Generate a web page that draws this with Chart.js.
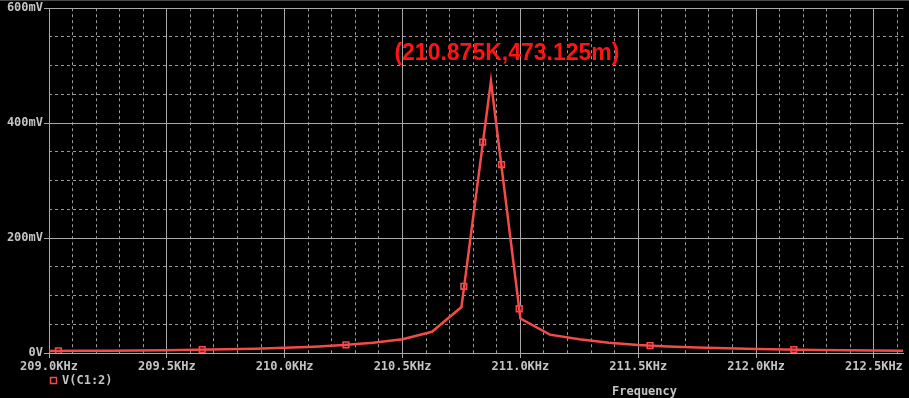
<!DOCTYPE html>
<html>
<head>
<meta charset="utf-8">
<title>V(C1:2)</title>
<script src="https://cdn.jsdelivr.net/npm/chart.js@4.4.1/dist/chart.umd.min.js"></script>
<style>
  html, body { margin: 0; padding: 0; background: #000; }
  #wrap { position: relative; width: 909px; height: 398px; }
  #wrap .edge { position: absolute; left: 0; top: 0; width: 909px; height: 1px; background: #4a4a4a; }
</style>
</head>
<body>
<div id="wrap"><canvas id="acChart"></canvas><div class="edge"></div></div>
<script>
// AC sweep of V(C1:2), frequency in KHz, voltage in mV
const freqKHz = [209.0, 209.125, 209.25, 209.375, 209.5, 209.625, 209.75, 209.875,
                 210.0, 210.125, 210.25, 210.375, 210.5, 210.625, 210.75, 210.875,
                 211.0, 211.125, 211.25, 211.375, 211.5, 211.625, 211.75, 211.875,
                 212.0, 212.125, 212.25, 212.375, 212.5, 212.625];
const vC1mV = [3.5, 3.8, 4.1, 4.5, 5.0, 5.8, 6.6, 7.6,
               9.0, 11, 14, 18, 24, 37, 80, 473.125,
               60, 32, 24, 18, 14, 11.5, 9.6, 8.3,
               7.0, 6.0, 5.3, 4.8, 4.4, 4.0];

// trace symbols along the curve
const markFreqKHz = [209.04, 209.65, 210.26, 210.76, 210.84, 210.92, 210.995, 211.55, 212.16];
const markMV = [3.8, 6, 14.3, 116, 367, 328, 77, 13, 6];

const xTicksMajor = 0.5, xTicksMinor = 0.1;
const yTicksMajor = 200, yTicksMinor = 50;
const traceName = 'V(C1:2)';
const xTitle = 'Frequency';

const traceColor = '#f54a4a';
const labelColor = '#c4c4c4';
const monoFont = { family: 'DejaVu Sans Mono', size: 12, weight: 'bold' };

const isMajor = (v, step) => Math.abs(v / step - Math.round(v / step)) < 1e-6;

// peak readout, legend entry and axis title
const notes = {
  id: 'notes',
  afterDraw(chart) {
    const ctx = chart.ctx;
    const xs = chart.scales.x, ys = chart.scales.y;
    let k = 0;
    vC1mV.forEach((v, i) => { if (v > vC1mV[k]) k = i; });
    const px = xs.getPixelForValue(freqKHz[k]);
    const py = ys.getPixelForValue(vC1mV[k]);
    ctx.save();
    ctx.fillStyle = '#ff1414';
    ctx.font = 'bold 23px "Liberation Sans", Arial, sans-serif';
    ctx.textAlign = 'center';
    ctx.textBaseline = 'middle';
    ctx.fillText('(' + freqKHz[k].toFixed(3) + 'K,' + vC1mV[k].toFixed(3) + 'm)', px + 16, py - 27);

    ctx.strokeStyle = traceColor;
    ctx.lineWidth = 1.5;
    ctx.strokeRect(50.5, 377.5, 6, 6);
    ctx.fillStyle = labelColor;
    ctx.font = 'bold 12px "DejaVu Sans Mono", monospace';
    ctx.textAlign = 'left';
    ctx.fillText(traceName, 62, 381);
    ctx.fillText(xTitle, 612, 392);
    ctx.restore();
  }
};

new Chart(document.getElementById('acChart'), {
  type: 'line',
  data: {
    datasets: [{
      label: traceName,
      data: freqKHz.map((f, i) => ({ x: f, y: vC1mV[i] })),
      borderColor: traceColor,
      borderWidth: 2.5,
      borderJoinStyle: 'miter',
      pointRadius: 0,
      tension: 0
    }, {
      label: traceName + ' symbols',
      data: markFreqKHz.map((f, i) => ({ x: f, y: markMV[i] })),
      showLine: false,
      pointStyle: 'rect',
      pointRadius: 4,
      pointBorderWidth: 1.6,
      pointBorderColor: traceColor,
      pointBackgroundColor: '#000'
    }]
  },
  options: {
    responsive: true,
    maintainAspectRatio: false,
    animation: false,
    layout: { padding: { top: 8, right: 1, left: 0, bottom: 0 } },
    plugins: { legend: { display: false }, tooltip: { enabled: false } },
    scales: {
      x: {
        type: 'linear', position: 'bottom',
        min: freqKHz[0], max: freqKHz[freqKHz.length - 1],
        ticks: {
          stepSize: xTicksMajor, includeBounds: false, autoSkip: false, maxRotation: 0,
          color: labelColor, font: monoFont, padding: 2,
          callback: v => v.toFixed(1) + 'KHz'
        },
        grid: { color: '#a8a8a8', tickColor: '#a8a8a8', tickLength: 5, lineWidth: 1 },
        border: { color: '#a8a8a8' },
        afterFit: s => { s.height = 45; }
      },
      xMinor: {
        type: 'linear', position: 'bottom',
        min: freqKHz[0], max: freqKHz[freqKHz.length - 1],
        ticks: { display: false, stepSize: xTicksMinor, includeBounds: false, autoSkip: false },
        grid: {
          drawTicks: false,
          color: c => isMajor(c.tick.value, xTicksMajor) ? 'rgba(0,0,0,0)' : '#9a9a9a'
        },
        border: { display: false, dash: [3, 3] },
        afterFit: s => { s.height = 0; }
      },
      y: {
        type: 'linear', position: 'left', min: 0, max: 600,
        ticks: {
          stepSize: yTicksMajor, color: labelColor, font: monoFont, padding: 1,
          callback: v => v === 0 ? '0V' : v + 'mV'
        },
        grid: { color: '#a8a8a8', tickColor: '#a8a8a8', tickLength: 5, lineWidth: 1 },
        border: { color: '#a8a8a8' },
        afterFit: s => { s.width = 49; }
      },
      yMinor: {
        type: 'linear', position: 'left', min: 0, max: 600,
        ticks: { display: false, stepSize: yTicksMinor },
        grid: {
          drawTicks: false,
          color: c => isMajor(c.tick.value, yTicksMajor) ? 'rgba(0,0,0,0)' : '#9a9a9a'
        },
        border: { display: false, dash: [3, 3] },
        afterFit: s => { s.width = 0; }
      }
    }
  },
  plugins: [notes]
});
</script>
</body>
</html>
